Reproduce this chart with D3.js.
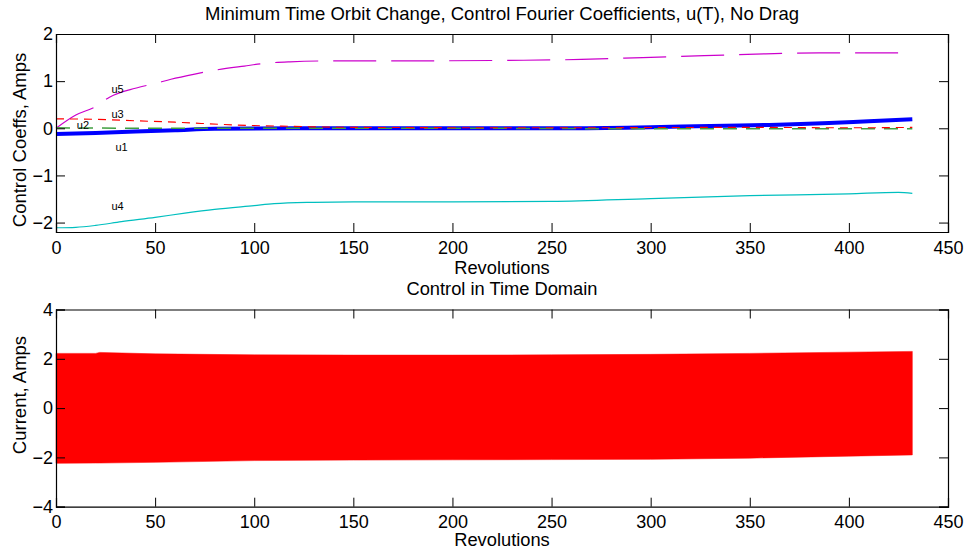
<!DOCTYPE html>
<html>
<head>
<meta charset="utf-8">
<script src="https://cdn.jsdelivr.net/npm/d3@7"></script>
<style>
  body { margin: 0; background: #fff; }
  svg text { font-family: "Liberation Sans", Arial, sans-serif; fill: #000; }
</style>
</head>
<body>
<div id="chart"></div>
<script>
// Fourier coefficient curves (rev, amps)
var u1Rev = [0, 20, 40, 60, 80, 120, 200, 260, 300, 330, 360, 390, 410, 432];
var u1Val = [-0.12, -0.1, -0.07, -0.04, -0.01, 0, 0, 0, 0.02, 0.05, 0.07, 0.11, 0.15, 0.19];
var u2Rev = [0, 50, 100, 200, 300, 350, 400, 432];
var u2Val = [0.01, 0, 0, 0, -0.01, -0.01, -0.01, -0.01];
var u3Rev = [0, 20, 40, 60, 90, 120, 150, 250, 350, 400, 432];
var u3Val = [0.2, 0.19, 0.16, 0.13, 0.07, 0.04, 0.02, 0.01, 0.02, 0.01, 0.02];
var u4Rev = [0, 10, 20, 33, 50, 65, 80, 100, 110, 130, 150, 200, 250, 300, 350, 400, 425, 432];
var u4Val = [-2.11, -2.1, -2.06, -1.98, -1.89, -1.8, -1.72, -1.64, -1.6, -1.57, -1.56, -1.56, -1.55, -1.49, -1.43, -1.39, -1.36, -1.38];
var u5Rev = [0, 10, 20, 27, 40, 50, 58, 70, 80, 95, 106, 118, 140, 175, 225, 265, 296, 327, 358, 385, 432];
var u5Val = [0, 0.28, 0.46, 0.66, 0.85, 0.95, 1.04, 1.15, 1.23, 1.32, 1.38, 1.41, 1.43, 1.43, 1.44, 1.46, 1.5, 1.54, 1.58, 1.6, 1.6];
var seriesNames = ["u1", "u2", "u3", "u4", "u5"];
// label anchor points (rev, amps)
var labelRev = [30, 10.5, 28, 28, 28];
var labelVal = [-0.39, 0.07, 0.29, -1.66, 0.82];

// envelope of the time-domain control current (bottom panel)
var envRev = [0, 2, 20, 22, 50, 100, 150, 200, 250, 300, 350, 400, 432];
var envUpper = [2.22, 2.22, 2.22, 2.26, 2.2, 2.16, 2.15, 2.15, 2.16, 2.18, 2.22, 2.27, 2.3];
var envLower = [-2.24, -2.24, -2.23, -2.23, -2.2, -2.13, -2.11, -2.1, -2.09, -2.08, -2.03, -1.95, -1.9];

var xTicks = [0, 50, 100, 150, 200, 250, 300, 350, 400, 450];
var yTicksTop = [-2, -1, 0, 1, 2];
var yTicksBottom = [-4, -2, 0, 2, 4];

var svgWidth = 968;
var svgHeight = 554;

var svg = d3.select("#chart")
    .append("svg")
    .attr("width", svgWidth)
    .attr("height", svgHeight);

svg.append("rect").attr("width", svgWidth).attr("height", svgHeight).attr("fill", "white");

var left = 56, right = 948;

var x = d3.scaleLinear().domain([0, 450]).range([left, right]);
var yTop = d3.scaleLinear().domain([-2.2, 2]).range([232, 34]);
var yBot = d3.scaleLinear().domain([-4, 4]).range([506.7, 309.5]);

// draws a MATLAB-like boxed axes with inward ticks on all sides
function drawBox(y, yTicks) {
    var top = y.range()[1], bottom = y.range()[0];
    var g = svg.append("g").attr("class", "box");

    g.append("g")
        .attr("transform", `translate(0,${bottom})`)
        .call(d3.axisBottom(x).tickValues(xTicks).tickSize(-9).tickPadding(9).tickFormat(d3.format("d")));
    g.append("g")
        .attr("transform", `translate(0,${top})`)
        .call(d3.axisTop(x).tickValues(xTicks).tickSize(-9).tickFormat(""));
    g.append("g")
        .attr("transform", `translate(${left},0)`)
        .call(d3.axisLeft(y).tickValues(yTicks).tickSize(-9).tickPadding(3).tickFormat(d3.format("d")));
    g.append("g")
        .attr("transform", `translate(${right},0)`)
        .call(d3.axisRight(y).tickValues(yTicks).tickSize(-9).tickFormat(""));

    g.selectAll(".domain").attr("stroke", "#000").attr("stroke-width", 1.2);
    g.selectAll(".tick line").attr("stroke", "#000");
    g.selectAll(".tick text").style("font-size", "18px").attr("fill", "#000");
    return g;
}

// ---------- top panel ----------
var topPlot = svg.append("g");

function addCurve(revs, vals, color, width, dash) {
    var pts = revs.map((r, i) => [r, vals[i]]);
    topPlot.append("path")
        .datum(pts)
        .attr("fill", "none")
        .attr("stroke", color)
        .attr("stroke-width", width)
        .attr("stroke-dasharray", dash)
        .attr("d", d3.line().x(d => x(d[0])).y(d => yTop(d[1])).curve(d3.curveMonotoneX));
}

addCurve(u5Rev, u5Val, "#cc00cc", 1.2, "43,15");
addCurve(u4Rev, u4Val, "#00bfbf", 1.2, null);
addCurve(u1Rev, u1Val, "#0000ff", 4, null);
addCurve(u2Rev, u2Val, "#3f9f3f", 1.5, "14,9");
addCurve(u3Rev, u3Val, "#ff0000", 1.1, "8,6");

seriesNames.forEach((name, i) => {
    topPlot.append("text")
        .attr("x", x(labelRev[i]))
        .attr("y", yTop(labelVal[i]))
        .attr("dy", "0.35em")
        .style("font-size", "11px")
        .attr("fill", "#222")
        .text(name);
});

drawBox(yTop, yTicksTop);

// ---------- bottom panel ----------
var envPts = envRev.map((r, i) => ({ r: r, hi: envUpper[i], lo: envLower[i] }));
svg.append("path")
    .datum(envPts)
    .attr("fill", "#ff0000")
    .attr("stroke", "#ff0000")
    .attr("stroke-width", 0.5)
    .attr("d", d3.area().x(d => x(d.r)).y0(d => yBot(d.lo)).y1(d => yBot(d.hi)));

drawBox(yBot, yTicksBottom);

// ---------- titles and axis labels ----------
var cx = (left + right) / 2;
function label(text, xx, yy, size) {
    svg.append("text")
        .attr("text-anchor", "middle")
        .attr("x", xx).attr("y", yy)
        .attr("dy", "0.35em")
        .style("font-size", size + "px")
        .text(text);
}
function vlabel(text, xx, yy) {
    svg.append("text")
        .attr("text-anchor", "middle")
        .attr("transform", `translate(${xx},${yy}) rotate(-90)`)
        .style("font-size", "18.5px")
        .text(text);
}
label("Minimum Time Orbit Change, Control Fourier Coefficients, u(T), No Drag", cx, 13.7, 18.5);
label("Revolutions", cx, 268, 18.3);
label("Control in Time Domain", cx, 289, 18.3);
label("Revolutions", cx, 540, 18.3);
vlabel("Control Coeffs, Amps", 26, 140);
vlabel("Current, Amps", 26, 395);
</script>
</body>
</html>
